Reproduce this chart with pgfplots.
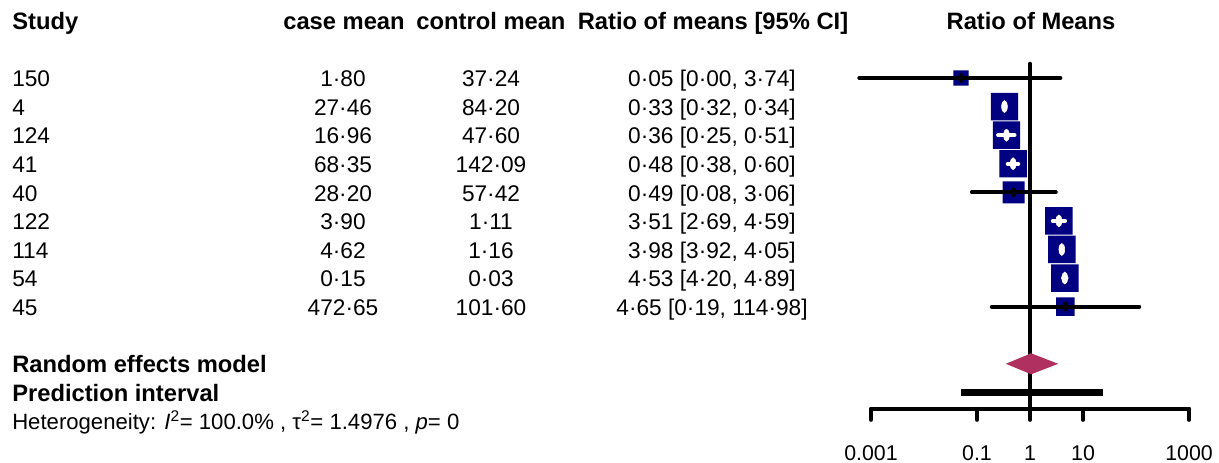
\documentclass[border=0pt]{standalone}
\usepackage{fontspec}
\setmainfont{Liberation Sans}
\usepackage{pgfplots}
\usepackage{pgfplotstable}
\pgfplotsset{compat=1.18}

\definecolor{sqblue}{RGB}{0,0,128}
\definecolor{diam}{RGB}{176,48,96}

% rounded square marker
\pgfdeclareplotmark{rsquare}{%
  \pgfsetcornersarced{\pgfpoint{2.4pt}{2.4pt}}%
  \pgfpathmoveto{\pgfpoint{0pt}{\pgfplotmarksize}}%
  \pgfpathlineto{\pgfpoint{\pgfplotmarksize}{\pgfplotmarksize}}%
  \pgfpathlineto{\pgfpoint{\pgfplotmarksize}{-\pgfplotmarksize}}%
  \pgfpathlineto{\pgfpoint{-\pgfplotmarksize}{-\pgfplotmarksize}}%
  \pgfpathlineto{\pgfpoint{-\pgfplotmarksize}{\pgfplotmarksize}}%
  \pgfpathclose
  \pgfusepathqfill}

% study estimates (row, ratio of means); squares of equal size per group
\pgfplotstableread{
row est
2 0.33
3 0.36
4 0.48
6 3.51
7 3.98
8 4.53
}\bigw

\newcommand\rowtxt[5]{%
  \pgfmathsetmacro\yb{86.7+(#1-1)*28.58}%
  \node[anchor=base west] at (12,\yb) {#2};
  \node[anchor=base] at (343,\yb) {#3};
  \node[anchor=base] at (491,\yb) {#4};
  \node[anchor=base] at (712,\yb) {#5};}

\begin{document}
\begin{tikzpicture}
\path[use as bounding box] (0,0) rectangle (914.25pt,-347.25pt);
\begin{axis}[at={(653.25pt,0pt)}, anchor=north west,
    width=238.5pt, height=347.25pt, scale only axis,
    xmode=log, xmin=0.001, xmax=1000,
    y dir=reverse, ymin=-1.729, ymax=14.471,
    hide axis, clip=false, clip marker paths=true]

  % line of no effect
  \addplot[black, line width=3pt, line cap=round] coordinates {(1,0.5) (1,12.58)};

  % study squares
  \addplot[only marks, color=sqblue, mark=rsquare, mark size=10.3pt] table[x=est, y=row] {\bigw};
  \addplot[only marks, color=sqblue, mark=rsquare, mark size=5.7pt] coordinates {(0.05,1)};
  \addplot[only marks, color=sqblue, mark=rsquare, mark size=8.25pt] coordinates {(0.49,5)};
  \addplot[only marks, color=sqblue, mark=rsquare, mark size=6.9pt] coordinates {(4.65,9)};

  % CIs wider than the box
  \addplot[black, line width=3pt, line cap=round, unbounded coords=jump] coordinates {
    (0.0006,1) (3.74,1) (nan,nan)
    (0.08,5) (3.06,5) (nan,nan)
    (0.19,9) (114.98,9)};
  % CIs inside the box
  \addplot[white, line width=3pt, line cap=round, unbounded coords=jump] coordinates {
    (0.32,2) (0.34,2) (nan,nan)
    (0.25,3) (0.51,3) (nan,nan)
    (0.38,4) (0.60,4) (nan,nan)
    (2.69,6) (4.59,6) (nan,nan)
    (3.92,7) (4.05,7) (nan,nan)
    (4.20,8) (4.89,8)};

  \addplot[only marks, mark=*, mark size=4.5pt, white, mark options={xscale=0.48}]
    table[x=est, y=row] {\bigw};
  \addplot[only marks, mark=*, mark size=3.5pt, black, mark options={xscale=0.55}]
    coordinates {(0.05,1) (0.49,5) (4.65,9)};

  % random effects diamond
  \addplot[fill=diam, draw=none] coordinates {(0.35,11) (1.05,10.633) (3.4,11) (1.05,11.367)} -- cycle;
  % prediction interval
  \addplot[black, line width=5.25pt] coordinates {(0.05,12) (24,12)};

  % x axis
  \addplot[black, line width=3pt, line cap=round] coordinates {(0.001,12.58) (1000,12.58)};
  \addplot[black, line width=3pt, line cap=round, unbounded coords=jump] coordinates {
    (0.001,12.58) (0.001,12.96) (nan,nan)
    (0.1,12.58) (0.1,12.96) (nan,nan)
    (1,12.58) (1,12.96) (nan,nan)
    (10,12.58) (10,12.96) (nan,nan)
    (1000,12.58) (1000,12.96)};
  \pgfplotsinvokeforeach{0.001,0.1,1,10,1000}{
    \node[anchor=base, inner sep=0pt, font=\fontsize{16}{19}\selectfont] at (axis cs:#1,14.366) {#1};}
\end{axis}

\begin{scope}[x=0.75pt, y=-0.75pt, every node/.style={inner sep=0pt, font=\fontsize{17}{20}\selectfont}]
  \begin{scope}[every node/.append style={font=\fontsize{17.8}{21}\selectfont\bfseries}]
    \node[anchor=base west] at (12,29.5) {Study};
    \node[anchor=base] at (344,29.5) {case mean};
    \node[anchor=base] at (491,29.5) {control mean};
    \node[anchor=base] at (713,29.5) {Ratio of means [95\% CI]};
    \node[anchor=base] at (1031,29.5) {Ratio of Means};
    \node[anchor=base west] at (12,372.5) {Random effects model};
    \node[anchor=base west] at (12,401.1) {Prediction interval};
  \end{scope}
  \rowtxt{1}{150}{1·80}{37·24}{0·05 [0·00, 3·74]}
  \rowtxt{2}{4}{27·46}{84·20}{0·33 [0·32, 0·34]}
  \rowtxt{3}{124}{16·96}{47·60}{0·36 [0·25, 0·51]}
  \rowtxt{4}{41}{68·35}{142·09}{0·48 [0·38, 0·60]}
  \rowtxt{5}{40}{28·20}{57·42}{0·49 [0·08, 3·06]}
  \rowtxt{6}{122}{3·90}{1·11}{3·51 [2·69, 4·59]}
  \rowtxt{7}{114}{4·62}{1·16}{3·98 [3·92, 4·05]}
  \rowtxt{8}{54}{0·15}{0·03}{4·53 [4·20, 4·89]}
  \rowtxt{9}{45}{472·65}{101·60}{4·65 [0·19, 114·98]}
  \node[anchor=base west, font=\fontsize{16.6}{20}\selectfont] at (12,429.7) {Heterogeneity: \textit{I}\textsuperscript{2}= 100.0\% , τ\textsuperscript{2}= 1.4976 , \textit{p}= 0};
\end{scope}
\end{tikzpicture}
\end{document}
